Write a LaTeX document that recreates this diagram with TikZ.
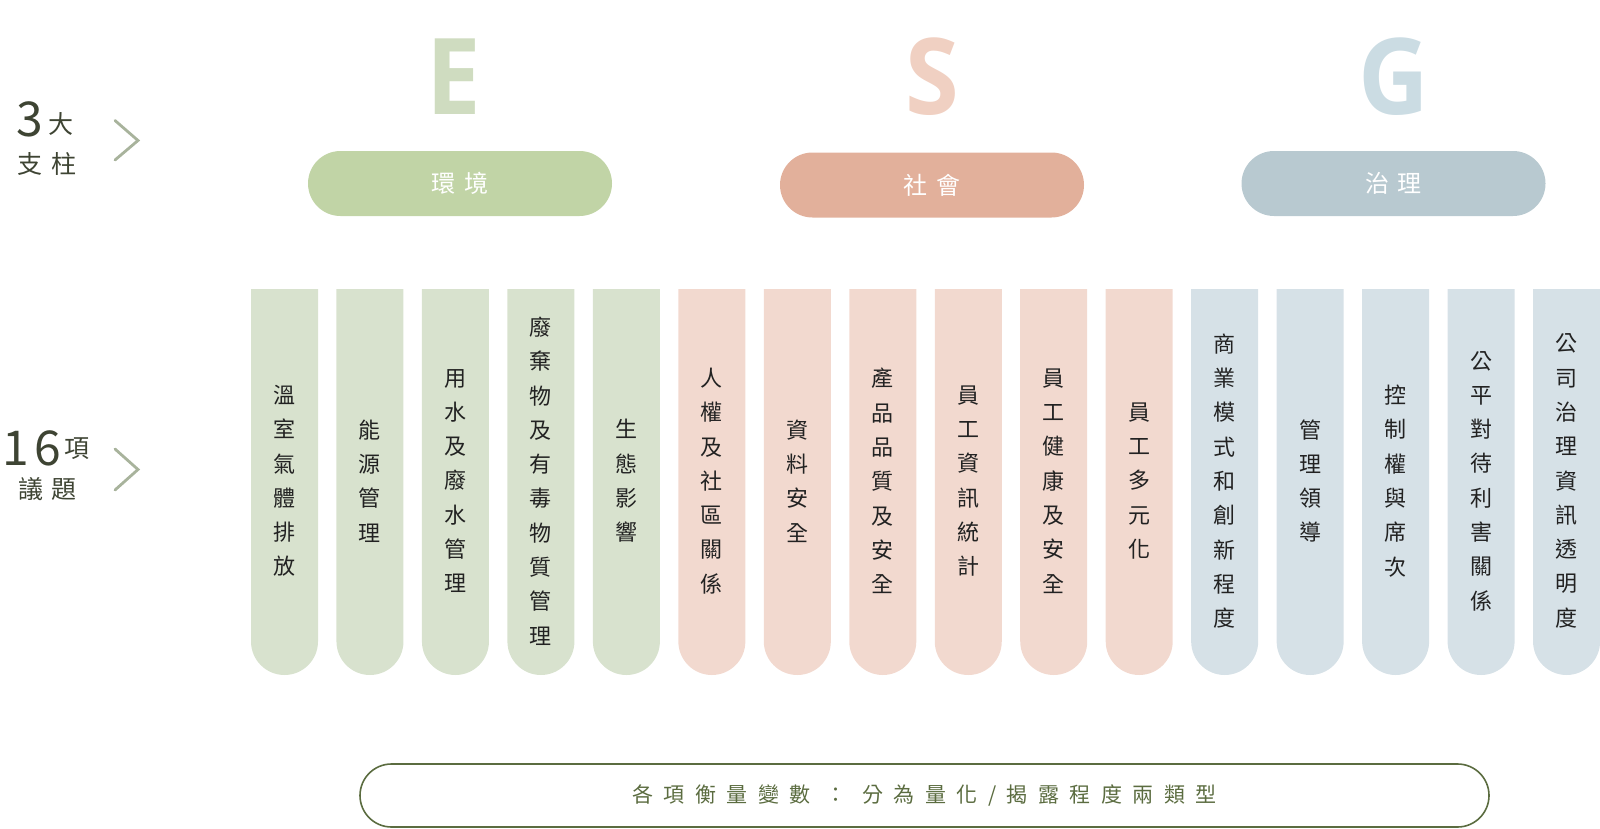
\documentclass[tikz,border=0pt]{standalone}
\usepackage{fontspec}
\setmainfont{Noto Sans CJK TC}
\newfontfamily\largo[LetterSpace=35]{Noto Sans CJK TC}
\newfontfamily\larghissimo[LetterSpace=50]{Noto Sans CJK TC}
\newfontfamily\lettere{Open Sans}
\usepackage{xcolor}
\definecolor{letE}{HTML}{CFDCC0}
\definecolor{letS}{HTML}{F0D0C2}
\definecolor{letG}{HTML}{CBDCE3}
\definecolor{pillE}{HTML}{C1D4A6}
\definecolor{pillS}{HTML}{E2B09B}
\definecolor{pillG}{HTML}{B8C9D0}
\definecolor{colE}{HTML}{D8E2CE}
\definecolor{colS}{HTML}{F2D9CF}
\definecolor{colG}{HTML}{D6E1E7}
\definecolor{scuro}{HTML}{3E4433}
\definecolor{freccia}{HTML}{A8B39C}
\definecolor{oliva}{HTML}{5B6C40}
\definecolor{testo}{HTML}{222222}
\tikzset{
  lettera/.style = {anchor = base, inner sep = 0pt, font = \lettere\bfseries\fontsize{53}{53}\selectfont},
  pilastro/.style = {minimum width = 152pt, minimum height = 32.5pt, rounded corners = 16.25pt, inner sep = 0pt, text = white, font = \largo\fontsize{12}{12}\selectfont},
  tema/.style = {align = center, inner sep = 0pt, text = testo, font = \fontsize{11}{17.15}\selectfont},
  etichetta/.style = {inner sep = 0pt, text = scuro, font = \fontsize{12.5}{12.5}\selectfont},
  chevron/.style = {draw = freccia, line width = 1.4pt, line cap = round, line join = miter},
  nota/.style = {draw = oliva, line width = 0.8pt, minimum width = 564.5pt, minimum height = 31.5pt, rounded corners = 15.75pt, inner sep = 0pt, text = oliva, font = \larghissimo\fontsize{10.5}{10.5}\selectfont}
}
\begin{document}
\begin{tikzpicture}[x = 0.5pt, y = -0.5pt]
    \useasboundingbox (0,0) rectangle (1600,829);
    % Parametri
    \pgfmathsetmacro{\colx}{251}
    \pgfmathsetmacro{\passo}{85.47}
    \pgfmathsetmacro{\largh}{67}
    \pgfmathsetmacro{\ctop}{289}
    \pgfmathsetmacro{\cbot}{641.5}
    \pgfmathsetmacro{\cmid}{481}
    % Etichette a sinistra
    \node[etichetta, anchor = base west, font = \fontsize{24}{24}\selectfont] (tre) at (16,136) {3};
    \node[etichetta] (grandi) at (61,124) {大};
    \node[etichetta, font = \largo\fontsize{12.5}{12.5}\selectfont] (pilastri) at (47,163.5) {支柱};
    \draw[chevron] (115,120.5) -- (138,140.5) -- (115,160);
    \node[etichetta, anchor = base west, font = \fontsize{24}{24}\selectfont] (sedici) at (2,465) {1\hspace{2.5pt}6};
    \node[etichetta] (voci) at (77,449) {項};
    \node[etichetta, font = \largo\fontsize{12.5}{12.5}\selectfont] (temi) at (47.5,489) {議題};
    \draw[chevron] (115,449) -- (138,469.5) -- (115,490);
    % Lettere E S G
    \node[lettera, text = letE] (E) at (454,115) {\scalebox{0.92}[1]{E}};
    \node[lettera, text = letS] (S) at (932,115) {\scalebox{0.92}[1]{S}};
    \node[lettera, text = letG] (G) at (1393.5,115) {\scalebox{0.92}[1]{G}};
    % Pilastri
    \node[pilastro, fill = pillE] (ambiente) at (460,183.5) {環境};
    \node[pilastro, fill = pillS] (sociale) at (932,185) {社會};
    \node[pilastro, fill = pillG] (governo) at (1393.5,183.5) {治理};
    % Colonne dei 16 temi
    \foreach \colore/\voce [count = \i] in {
        colE/{溫\\室\\氣\\體\\排\\放},
        colE/{能\\源\\管\\理},
        colE/{用\\水\\及\\廢\\水\\管\\理},
        colE/{廢\\棄\\物\\及\\有\\毒\\物\\質\\管\\理},
        colE/{生\\態\\影\\響},
        colS/{人\\權\\及\\社\\區\\關\\係},
        colS/{資\\料\\安\\全},
        colS/{產\\品\\品\\質\\及\\安\\全},
        colS/{員\\工\\資\\訊\\統\\計},
        colS/{員\\工\\健\\康\\及\\安\\全},
        colS/{員\\工\\多\\元\\化},
        colG/{商\\業\\模\\式\\和\\創\\新\\程\\度},
        colG/{管\\理\\領\\導},
        colG/{控\\制\\權\\與\\席\\次},
        colG/{公\\平\\對\\待\\利\\害\\關\\係},
        colG/{公\\司\\治\\理\\資\\訊\\透\\明\\度}}
    {
        \pgfmathsetmacro{\xa}{\colx+(\i-1)*\passo}
        \pgfmathsetmacro{\xb}{\xa+\largh}
        \fill[\colore] (\xa,\ctop) -- (\xa,\cbot) arc[start angle = 180, end angle = 0, radius = \largh/2] -- (\xb,\ctop) -- cycle;
        \node[tema] (tema\i) at ({\xa+\largh/2},\cmid) {\voce};
    }
    % Nota in basso
    \node[nota] (nota) at (924.5,795.5) {各項衡量變數 ： 分為量化/揭露程度兩類型};
\end{tikzpicture}
\end{document}
